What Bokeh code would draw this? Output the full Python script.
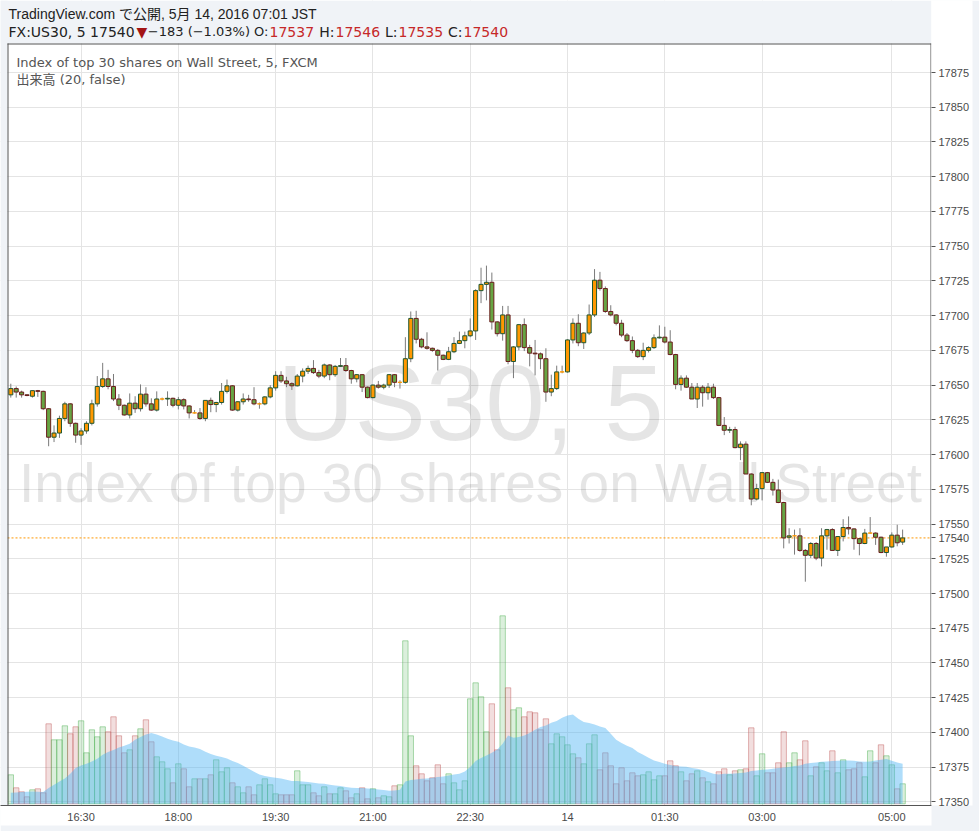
from bokeh.plotting import figure
from bokeh.models import Range1d, FixedTicker, Label, ColumnDataSource
from bokeh.embed import file_html
from bokeh.resources import INLINE

# ---------------- data ----------------
start_time = "15:25"
bar_minutes = 5

opens = [17643,17647.5,17645,17643,17642,17646,17645.5,17633,17612.5,17615.5,
         17626,17636.5,17622.5,17614,17617,17622.5,17636.5,17649,17654.5,17649,
         17640,17635.5,17628.5,17637,17633,17643.5,17636.5,17632,17640,17640,
         17640.5,17635.5,17639.5,17635,17630,17630,17626,17639,17636,17637.5,
         17645.5,17649.5,17632,17638,17640,17639.5,17636.5,17636.5,17641.5,17648,
         17657,17653,17651,17649.5,17656.5,17660,17662,17659,17656.5,17664.5,
         17657.5,17663.5,17664,17660.5,17654.5,17657.5,17648.5,17641,17650,17648.5,
         17650,17657.5,17652,17652,17669,17698,17683,17677.5,17676.5,17675,
         17671.5,17668.5,17674,17680,17682,17685.5,17689,17718,17722.5,17724,
         17695.5,17687,17700.5,17667,17677.5,17693.5,17677,17673,17672.5,17669,
         17645,17647.5,17659.5,17659.5,17682.5,17694.5,17680.5,17687.5,17700.5,17725.5,
         17719.5,17703,17700.5,17694.5,17686,17682,17675,17670.5,17675,17677,
         17684,17684.5,17681,17672,17650.5,17655,17648.5,17640,17648.5,17644.5,
         17648.5,17641,17621,17617.5,17618,17605,17607.5,17586,17568,17575.5,
         17587,17580,17574.5,17565.5,17540.5,17541.5,17541.5,17531,17527.5,17536,
         17525.5,17541.5,17546,17531,17541,17547.5,17546.5,17539.5,17536,17543.5,
         17543.5,17540.5,17529.5,17533.5,17542,17537]
highs = [17651,17649,17646,17643.5,17646,17646.5,17646,17633.5,17621,17628,
         17638,17637,17623,17619,17624,17639.5,17656.5,17666,17661,17658,
         17643.5,17636,17644,17642,17650.5,17648.5,17640.5,17645.5,17641,17645.5,
         17641,17641.5,17640.5,17635.5,17632,17633.5,17639,17641,17638,17651.5,
         17654,17650,17638.5,17644,17643,17648.5,17637.5,17642,17650,17660,
         17660,17656,17652,17658,17662,17664,17668,17661,17665.5,17665,
         17664.5,17669.5,17669.5,17661,17658,17658,17649,17650.5,17653,17651,
         17658,17658,17653.5,17684.5,17703,17703.5,17684,17688,17677,17676,
         17672,17677.5,17684.5,17688.5,17688.5,17698,17719,17734.5,17736,17731,
         17696,17707,17707,17678,17694,17698,17679,17682.5,17673.5,17676.5,
         17657.5,17664,17664,17683,17698,17701,17688,17708,17733.5,17731.5,
         17721,17707.5,17701,17697,17687.5,17685,17676,17680.5,17678,17686.5,
         17693,17692,17689.5,17672.5,17657,17657,17651.5,17651.5,17650,17651.5,
         17651,17641.5,17627,17620,17620,17609.5,17609.5,17586.5,17579,17587,
         17587.5,17582.5,17582,17566,17547,17546,17547,17532,17537,17537,
         17547,17546.5,17547,17541,17553.5,17555.5,17547,17540,17546.5,17555,
         17544,17541,17533.5,17544,17549.5,17546]
lows = [17641,17641,17641,17642,17641,17641.5,17632,17606,17609,17612,
        17624,17620,17608.5,17607,17615,17621,17634.5,17648,17647,17638.5,
        17632,17628,17626,17630,17631,17634.5,17631.5,17631,17639,17635,
        17634,17632.5,17632.5,17626,17629.5,17625,17624,17630.5,17630.5,17636,
        17644,17631.5,17631,17636,17638,17635.5,17633,17635.5,17640.5,17646,
        17651.5,17648.5,17646.5,17649,17652,17658,17658,17655,17655,17653.5,
        17656,17663,17659.5,17651,17652,17645,17640.5,17640.5,17647.5,17647,
        17648,17648.5,17647.5,17651,17666.5,17680,17676.5,17675.5,17674,17660.5,
        17668,17668,17673,17679.5,17676.5,17684.5,17682.5,17709,17711,17690,
        17685,17682,17665,17655,17675,17674.5,17663.5,17657,17661.5,17638,
        17642,17646.5,17658.5,17659,17680,17678,17676,17686,17699,17718,
        17702,17699.5,17693,17684.5,17681,17673,17669.5,17668,17673.5,17676,
        17683.5,17680,17671.5,17647,17646,17648,17640,17633.5,17634.5,17639.5,
        17640,17620.5,17614,17615.5,17604.5,17596,17586,17563.5,17567,17567,
        17579.5,17570.5,17565,17532.5,17536,17528,17530,17508.5,17525.5,17524,
        17519.5,17531.5,17531,17527,17537.5,17542.5,17531.5,17527.5,17535.5,17543,
        17535,17529,17526.5,17533,17534,17535]
closes = [17647.5,17645,17643,17642.5,17646,17645.5,17633,17612.5,17615.5,17626,
          17636.5,17622.5,17614,17617,17622.5,17636.5,17649,17654.5,17649,17640,
          17635.5,17628.5,17637,17633,17643.5,17636.5,17632,17640,17640,17640.5,
          17635.5,17639.5,17635,17630,17630,17626,17639,17636,17637.5,17645.5,
          17649.5,17632,17638,17640,17639.5,17636.5,17636.5,17641.5,17648,17657,
          17653,17651,17649.5,17656.5,17660,17662,17659,17656.5,17664.5,17657.5,
          17663.5,17664,17660.5,17654.5,17657.5,17648.5,17641,17650,17648.5,17650,
          17657.5,17652,17652,17669,17698,17683,17677.5,17676.5,17675,17671.5,
          17668.5,17674,17680,17682,17685.5,17689,17718,17722.5,17724,17695.5,
          17687,17700.5,17667,17677.5,17693.5,17677,17673,17672.5,17669,17645,
          17647.5,17659.5,17659.5,17682.5,17694.5,17680.5,17687.5,17700.5,17725.5,17719.5,
          17703,17700.5,17694.5,17686,17682,17675,17670.5,17675,17677,17684,
          17684.5,17681,17672,17650.5,17655,17648.5,17640,17648.5,17644.5,17648.5,
          17641,17621,17617.5,17618,17605,17607.5,17586,17568,17575.5,17587,
          17580,17574.5,17565.5,17540,17541.5,17541.5,17531,17527.5,17536,17525.5,
          17541.5,17546,17531,17541,17547.5,17546.5,17539.5,17536,17543.5,17543.5,
          17540.5,17529.5,17533.5,17542,17536.5,17540]
volumes = [29,16,12,7,14,15,11,80,64,64,
           78,70,77,83,51,74,67,77,72,87,
           68,51,54,68,75,84,62,47,42,35,
           21,40,35,17,25,25,25,29,44,32,
           36,21,17,11,17,9,19,25,19,10,
           9,9,9,33,19,19,11,8,17,10,
           10,16,13,6,10,16,5,15,6,8,
           7,18,19,163,68,38,30,23,26,39,
           20,30,21,14,23,105,121,107,72,100,
           54,188,116,94,96,87,92,91,74,85,
           60,70,67,59,50,46,40,60,69,34,
           51,38,20,36,23,31,28,29,32,24,
           28,28,43,38,32,23,30,33,26,22,
           20,32,35,29,33,34,35,76,28,50,
           31,31,41,72,41,51,44,63,28,37,
           41,33,53,31,44,34,35,41,27,53,
           41,59,48,39,15,20]
volume_ma = [11,11.3,11.7,12,12.3,12,11.7,15.7,19,22.3,
             25.3,30,35.7,38.3,40,42.3,45,49,51.7,53.7,
             56.3,58,60,64,66.7,69.3,70.7,69.3,67.3,65,
             63.3,62,59.3,57.3,56.3,54.7,52,49.7,48,46.7,
             45.3,42.7,40.7,38,35,32,29.3,27.7,26.7,26,
             25.3,24,22.7,22.7,22.3,21.7,21,20.3,20,19,
             18.3,17.7,16.7,16,15.7,15.7,15.3,15,14.3,13.7,
             13,13.3,14,22.3,23.7,24.3,25,25.3,26,26.7,
             27.3,28.3,29.3,30,32.3,36.7,42.7,45.7,48.3,51,
             54.3,60,68.3,66,66.7,68.3,70.7,74,76.7,78.3,
             81,82.7,86,88.3,89.3,85,81.7,80.7,79.3,77.3,
             75.7,70,64,60.7,58,55.7,51.7,49,46,43.3,
             41.7,40,38.7,37.7,37.3,37,35.7,35,33.7,31.7,
             30,29.3,30,30,30.3,30.7,31.3,32.7,33.3,34,
             34.3,35,35.7,36.3,36.7,37.7,38.3,40,40.7,41.3,
             42,42.3,42.7,43,43.3,43.3,43,42.3,42,42.3,
             43.3,44,44.7,43,41.3,40]
time_ticks = ["16:30", "18:00", "19:30", "21:00", "22:30", "00:00", "01:30", "03:00", "05:00"]
time_tick_labels = ["16:30", "18:00", "19:30", "21:00", "22:30", "14", "01:30", "03:00", "05:00"]
price_ticks = list(range(17350, 17876, 25))
last_price = 17540
symbol_title = "Index of top 30 shares on Wall Street, 5, FXCM"
volume_title = "出来高 (20, false)"
watermark_1 = "US30, 5"
watermark_2 = "Index of top 30 shares on Wall Street"
header_1 = "TradingView.com で公開, 5月 14, 2016 07:01 JST"
header_2 = [("FX:US30, 5 17540", "txt"), ("▼", "arrow"), ("−183 (−1.03%) O:", "txt"),
            ("17537", "num"), ("H:", "txt"), ("17546", "num"), ("L:", "txt"),
            ("17535", "num"), ("C:", "txt"), ("17540", "num")]

# ---------------- layout constants (page pixels) ----------------
BG = "#f0f3f7"
FONT_L = "Liberation Sans, Noto Sans CJK JP"
FONT_D = "DejaVu Sans, Noto Sans CJK JP"
FW, FH = 931, 805                      # frame covers page x 0..931, y 0..805
CL, CT = 7, 43                          # chart (white area) left / top edges
X0, X1 = -1.9056, 170.3423              # bar-index range of the frame
Y0, Y1 = 17347.41, 17926.83             # price range of the frame


def px(xp):
    return X0 + xp / FW * (X1 - X0)


def py(yp):
    return Y1 - yp / FH * (Y1 - Y0)


def tmin(s):
    h, m = s.split(":")
    return int(h) * 60 + int(m)


n = len(closes)
idx = list(range(n))
t0 = tmin(start_time)
tick_pos = [((tmin(t) - t0) % 1440) / bar_minutes for t in time_ticks]

UP_FILL, UP_LINE = "#ff9800", "#1e5631"
DN_FILL, DN_LINE = "#67a443", "#6b1c1c"
WICK = "#7a7a7a"

body_top = [max(o, c) for o, c in zip(opens, closes)]
body_bot = [min(o, c) for o, c in zip(opens, closes)]
fill = [UP_FILL if c > o else (DN_FILL if c < o else UP_FILL) for o, c in zip(opens, closes)]
line = [UP_LINE if c > o else (DN_LINE if c < o else UP_FILL) for o, c in zip(opens, closes)]
vcol = ["#4caf50" if c >= o else "#c05a5a" for o, c in zip(opens, closes)]

src = ColumnDataSource(dict(x=idx, o=opens, h=highs, l=lows, c=closes, top=body_top, bot=body_bot,
                            fill=fill, line=line, vol=volumes, vcol=vcol, ma=volume_ma))

p = figure(frame_width=FW, frame_height=FH,
           x_range=Range1d(X0, X1), y_range=Range1d(Y0, Y1),
           y_axis_location="right", output_backend="svg", toolbar_location=None,
           min_border_left=0, min_border_right=48, min_border_top=0, min_border_bottom=26,
           border_fill_color=BG, background_fill_color="white",
           outline_line_color=None)

p.extra_y_ranges = {"vol": Range1d(-1.7, 803.3)}

# grids
p.xgrid.ticker = FixedTicker(ticks=tick_pos)
p.ygrid.ticker = FixedTicker(ticks=price_ticks)
for g in (p.xgrid, p.ygrid):
    g.grid_line_color = "#e4e4e4"
    g.grid_line_width = 1

# axes
xa = p.xaxis[0]
xa.ticker = FixedTicker(ticks=tick_pos)
xa.major_label_overrides = {tp: lab for tp, lab in zip(tick_pos, time_tick_labels)}
xa.major_tick_out = 0
xa.major_tick_in = 0
xa.minor_tick_out = 0
xa.minor_tick_in = 0
xa.axis_line_color = "#555555"
xa.major_label_text_font = "Liberation Sans"
xa.major_label_text_font_size = "11px"
xa.major_label_text_color = "#4a4a4a"
xa.major_label_standoff = 5

ya = p.yaxis[0]
ya.ticker = FixedTicker(ticks=price_ticks + [last_price])
ya.major_tick_out = 4
ya.major_tick_in = 0
ya.minor_tick_out = 0
ya.minor_tick_in = 0
ya.axis_line_color = None
ya.major_tick_line_color = "#555555"
ya.major_label_text_font = "Liberation Sans"
ya.major_label_text_font_size = "11px"
ya.major_label_text_color = "#4a4a4a"
ya.major_label_standoff = 3
for ax in (xa, ya):
    try:
        ax.background_fill_color = "white"
    except Exception:
        pass

# watermark
p.add_layout(Label(x=px(470), y=py(402), text=watermark_1, text_align="center", text_baseline="middle",
                   text_font="Liberation Sans", text_font_size="107px", text_color="#000000",
                   text_alpha=0.1, level="underlay"))
p.add_layout(Label(x=px(470), y=py(482), text=watermark_2,
                   text_align="center", text_baseline="middle",
                   text_font="Liberation Sans", text_font_size="55px", text_color="#000000",
                   text_alpha=0.1, level="underlay"))

# volume + MA
p.vbar(x="x", width=1.0, top="vol", bottom=0, source=src, y_range_name="vol",
       fill_color="vcol", fill_alpha=0.2, line_color="vcol", line_alpha=0.45, line_width=1)
p.varea(x="x", y1=0, y2="ma", source=src, y_range_name="vol", fill_color="#4db3f5", fill_alpha=0.45)

# last price dotted line
p.segment(x0=px(CL), y0=last_price, x1=X1, y1=last_price, line_color="#ff9800",
          line_dash="2 2", line_width=1)

# candles
p.segment(x0="x", y0="h", x1="x", y1="l", source=src, line_color=WICK, line_width=1)
p.vbar(x="x", width=0.75, top="top", bottom="bot", source=src,
       fill_color="fill", line_color="line", line_width=1)

# page background around the chart (header strip and left strip)
p.quad(left=X0, right=X1, bottom=py(CT), top=Y1, fill_color=BG, line_color=None)
p.quad(left=X0, right=px(CL), bottom=Y0, top=Y1, fill_color=BG, line_color=None)

# chart border (top, left, right)
p.segment(x0=px(CL), y0=py(CT + 0.5), x1=X1, y1=py(CT + 0.5), line_color="#555555", line_width=1)
p.segment(x0=px(CL + 0.5), y0=py(CT), x1=px(CL + 0.5), y1=Y0, line_color="#555555", line_width=1)
p.segment(x0=px(FW - 0.5), y0=py(CT), x1=px(FW - 0.5), y1=Y0, line_color="#555555", line_width=1)

# in-chart titles
p.add_layout(Label(x=px(16), y=py(62), text=symbol_title, text_baseline="middle",
                   text_font=FONT_D, text_font_size="13px", text_color="#555555"))
p.add_layout(Label(x=px(16), y=py(79), text=volume_title, text_baseline="middle",
                   text_font=FONT_D, text_font_size="13px", text_color="#555555"))

# header
p.add_layout(Label(x=px(8), y=py(13), text=header_1,
                   text_baseline="middle", text_font=FONT_L, text_font_size="14px", text_color="#222222"))
colors = {"txt": "#222222", "arrow": "#a31515", "num": "#c62828"}
# (x position, alignment, font size) of each header piece
placement = [(8, "left", 14), (136, "left", 14), (268, "right", 13), (269, "left", 14),
             (334, "right", 14), (335, "left", 14), (397, "right", 14), (398, "left", 14),
             (462, "right", 14), (463, "left", 14)]
for (xp, al, fs), (txt, kind) in zip(placement, header_2):
    p.add_layout(Label(x=px(xp), y=py(31), text=txt, text_baseline="middle", text_align=al,
                       text_font=FONT_D, text_font_size="%dpx" % fs, text_color=colors[kind]))

html = file_html(p, INLINE)
html = html.replace("<body", '<body style="background-color:%s;"' % BG, 1)
open("out.html", "w").write(html)
